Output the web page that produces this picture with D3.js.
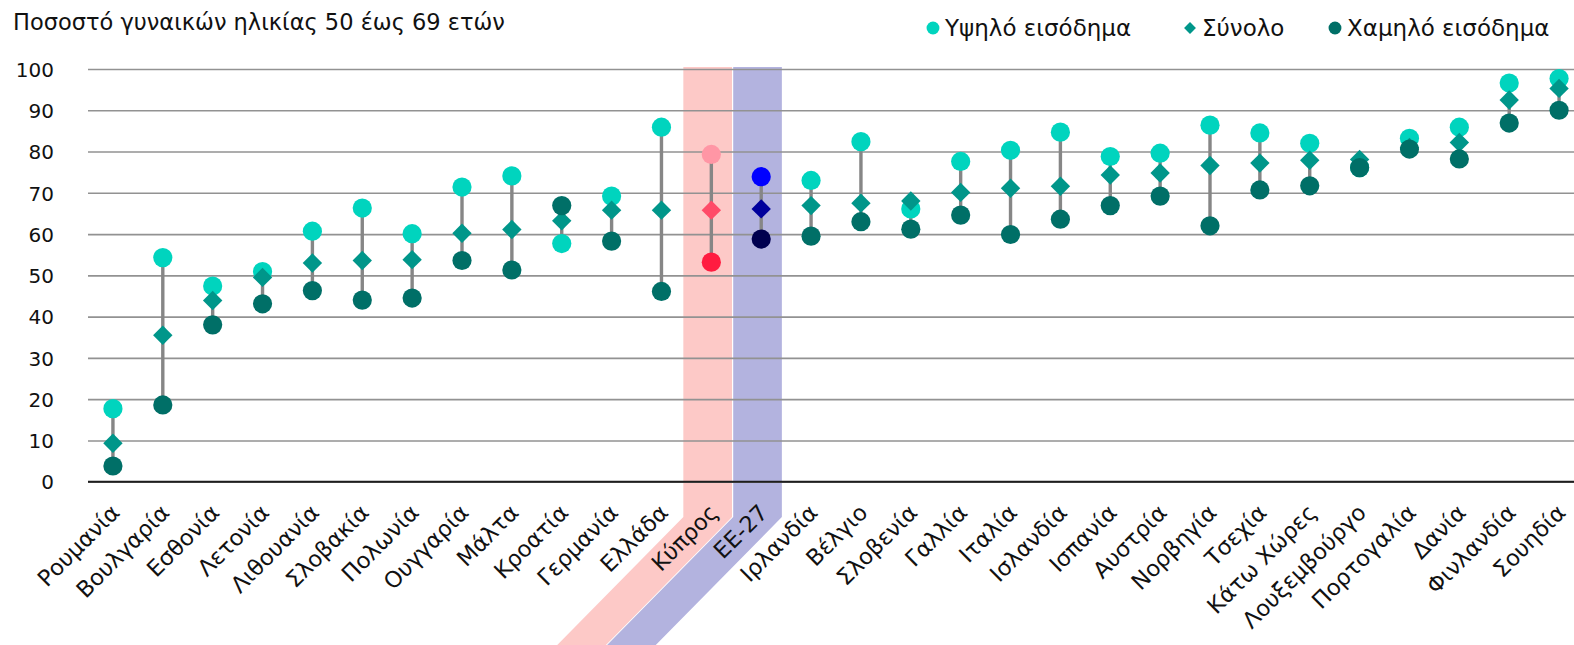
<!DOCTYPE html>
<html>
<head>
<meta charset="utf-8">
<script src="https://cdn.jsdelivr.net/npm/d3@7"></script>
<style>
  body { margin: 0; background: #fff; }
  svg { display: block; font-family: "DejaVu Sans", Verdana, sans-serif; }
</style>
</head>
<body>
<div id="chart"></div>
<script>
// Data
var countries = ["Ρουμανία", "Βουλγαρία", "Εσθονία", "Λετονία", "Λιθουανία", "Σλοβακία", "Πολωνία", "Ουγγαρία",
  "Μάλτα", "Κροατία", "Γερμανία", "Ελλάδα", "Κύπρος", "ΕΕ-27", "Ιρλανδία", "Βέλγιο", "Σλοβενία", "Γαλλία",
  "Ιταλία", "Ισλανδία", "Ισπανία", "Αυστρία", "Νορβηγία", "Τσεχία", "Κάτω Χώρες", "Λουξεμβούργο",
  "Πορτογαλία", "Δανία", "Φινλανδία", "Σουηδία"]

var highIncome = [17.7, 54.3, 47.4, 50.9, 60.7, 66.3, 60.1, 71.4, 74.1, 57.7, 69.2, 85.9, 79.3, 73.9, 73.0,
  82.4, 66.1, 77.6, 80.3, 84.7, 78.8, 79.6, 86.4, 84.5, 82.0, 76.1, 83.2, 85.9, 96.6, 97.7]

var total = [9.3, 35.5, 43.9, 49.5, 53.0, 53.6, 53.8, 60.2, 61.1, 63.2, 65.8, 65.8, 65.8, 66.1, 66.9,
  67.5, 68.0, 70.1, 71.1, 71.6, 74.3, 74.8, 76.6, 77.2, 77.9, 78.1, 81.0, 82.2, 92.5, 95.3]

var lowIncome = [3.8, 18.6, 38.0, 43.1, 46.3, 44.0, 44.5, 53.6, 51.3, 66.9, 58.3, 46.1, 53.2, 58.8, 59.5,
  63.0, 61.2, 64.6, 59.9, 63.6, 66.9, 69.2, 62.0, 70.7, 71.7, 76.1, 80.6, 78.2, 86.9, 90.0]

var yTicks = [0, 10, 20, 30, 40, 50, 60, 70, 80, 90, 100]

var legendLabels = ["Υψηλό εισόδημα", "Σύνολο", "Χαμηλό εισόδημα"]
var titleText = "Ποσοστό γυναικών ηλικίας 50 έως 69 ετών"

var width = 1574
var height = 645
var margin = { top: 69, right: -10, bottom: 163.3, left: 88 }

// colours: [high, total, low]
var palette = {
  normal: ["#00d4be", "#00968a", "#006f67"],
  "Κύπρος": ["#ff96a5", "#ff4b68", "#ff1c40"],
  "ΕΕ-27": ["#0000ff", "#00009c", "#00004f"]
}
var bandFill = { "Κύπρος": "#fdc9c7", "ΕΕ-27": "#b3b3df" }

function colorsFor(c) {
  return palette[c] || palette.normal
}

var rows = countries.map(function(c, i) {
  return { country: c, high: highIncome[i], total: total[i], low: lowIncome[i] }
})

var svg = d3.select("#chart")
  .append("svg")
  .attr("width", width)
  .attr("height", height)

var xScale = d3.scaleBand()
  .domain(countries)
  .range([margin.left, width - margin.right])
  .paddingInner(0)
  .paddingOuter(0)

var yScale = d3.scaleLinear()
  .domain([0, 100])
  .range([height - margin.bottom, margin.top])

var cx = function(c) { return xScale(c) + xScale.bandwidth() / 2 }

// Highlight bands (vertical strip, then slanted under the label)
var bendY = 517
svg.selectAll("path.band")
  .data(countries.filter(function(c) { return bandFill[c] }))
  .enter()
  .append("path")
  .attr("class", "band")
  .attr("fill", function(d) { return bandFill[d] })
  .attr("d", function(d) {
    var l = cx(d) - 28
    var r = l + xScale.bandwidth() - 1.2
    var top = yScale(100) - 2
    var shift = (height - bendY) * 0.985
    return "M" + l + "," + top + "L" + r + "," + top + "L" + r + "," + bendY +
      "L" + (r - shift) + "," + height + "L" + (l - shift) + "," + height +
      "L" + l + "," + bendY + "Z"
  })

// Y grid
var yGrid = d3.axisLeft(yScale)
  .tickValues(yTicks)
  .tickSize(-(width - margin.left))
  .tickFormat("")

svg.append("g")
  .attr("class", "grid")
  .attr("transform", `translate(${margin.left},0)`)
  .call(yGrid)
  .call(function(g) { g.select(".domain").remove() })
  .selectAll("line")
  .attr("stroke", "#929292")
  .attr("stroke-width", 1.6)

// zero line
svg.append("line")
  .attr("x1", margin.left)
  .attr("x2", width)
  .attr("y1", yScale(0))
  .attr("y2", yScale(0))
  .attr("stroke", "#1e1e1e")
  .attr("stroke-width", 2)

// Y axis labels
var yAxis = d3.axisLeft(yScale)
  .tickValues(yTicks)
  .tickSize(0)
  .tickPadding(34)

svg.append("g")
  .attr("class", "y-axis")
  .attr("transform", `translate(${margin.left},0)`)
  .call(yAxis)
  .call(function(g) { g.select(".domain").remove() })
  .selectAll("text")
  .attr("font-size", "20px")
  .attr("font-family", "DejaVu Sans, Verdana, sans-serif")
  .attr("fill", "#111")
  .attr("dy", "0.36em")

// X labels, rotated
svg.selectAll("text.xlabel")
  .data(countries)
  .enter()
  .append("text")
  .attr("class", "xlabel")
  .attr("transform", function(d) { return `translate(${cx(d) + 8},${bendY - 3}) rotate(-45)` })
  .attr("text-anchor", "end")
  .attr("font-size", "22.5px")
  .attr("fill", "#111")
  .text(function(d) { return d })

// Connecting lines
svg.selectAll("line.range")
  .data(rows)
  .enter()
  .append("line")
  .attr("class", "range")
  .attr("x1", function(d) { return cx(d.country) })
  .attr("x2", function(d) { return cx(d.country) })
  .attr("y1", function(d) { return yScale(Math.max(d.high, d.low, d.total)) })
  .attr("y2", function(d) { return yScale(Math.min(d.high, d.low, d.total)) })
  .attr("stroke", "#868686")
  .attr("stroke-width", 3.4)

// High income circles
svg.selectAll("circle.high")
  .data(rows)
  .enter()
  .append("circle")
  .attr("class", "high")
  .attr("cx", function(d) { return cx(d.country) })
  .attr("cy", function(d) { return yScale(d.high) })
  .attr("r", 9.6)
  .attr("fill", function(d) { return colorsFor(d.country)[0] })

// Total diamonds
var diamond = d3.symbol().type(d3.symbolDiamond2).size(240)
svg.selectAll("path.total")
  .data(rows)
  .enter()
  .append("path")
  .attr("class", "total")
  .attr("d", diamond)
  .attr("transform", function(d) { return `translate(${cx(d.country)},${yScale(d.total)})` })
  .attr("fill", function(d) { return colorsFor(d.country)[1] })

// Low income circles
svg.selectAll("circle.low")
  .data(rows)
  .enter()
  .append("circle")
  .attr("class", "low")
  .attr("cx", function(d) { return cx(d.country) })
  .attr("cy", function(d) { return yScale(d.low) })
  .attr("r", 9.6)
  .attr("fill", function(d) { return colorsFor(d.country)[2] })

// Title
svg.append("text")
  .attr("x", 13)
  .attr("y", 30)
  .attr("font-size", "22.5px")
  .attr("fill", "#111")
  .text(titleText)

// Legend
var legendX = [933, 1190, 1335]
var legend = svg.selectAll("g.legend")
  .data(legendLabels)
  .enter()
  .append("g")
  .attr("class", "legend")
  .attr("transform", function(d, i) { return `translate(${legendX[i]},28)` })

legend.append("path")
  .attr("d", function(d, i) {
    return i === 1 ? d3.symbol().type(d3.symbolDiamond2).size(90)() : d3.symbol().type(d3.symbolCircle).size(130)()
  })
  .attr("fill", function(d, i) { return palette.normal[i] })

legend.append("text")
  .attr("x", 12)
  .attr("y", 8)
  .attr("font-size", "23px")
  .attr("fill", "#111")
  .text(function(d) { return d })
</script>
</body>
</html>
